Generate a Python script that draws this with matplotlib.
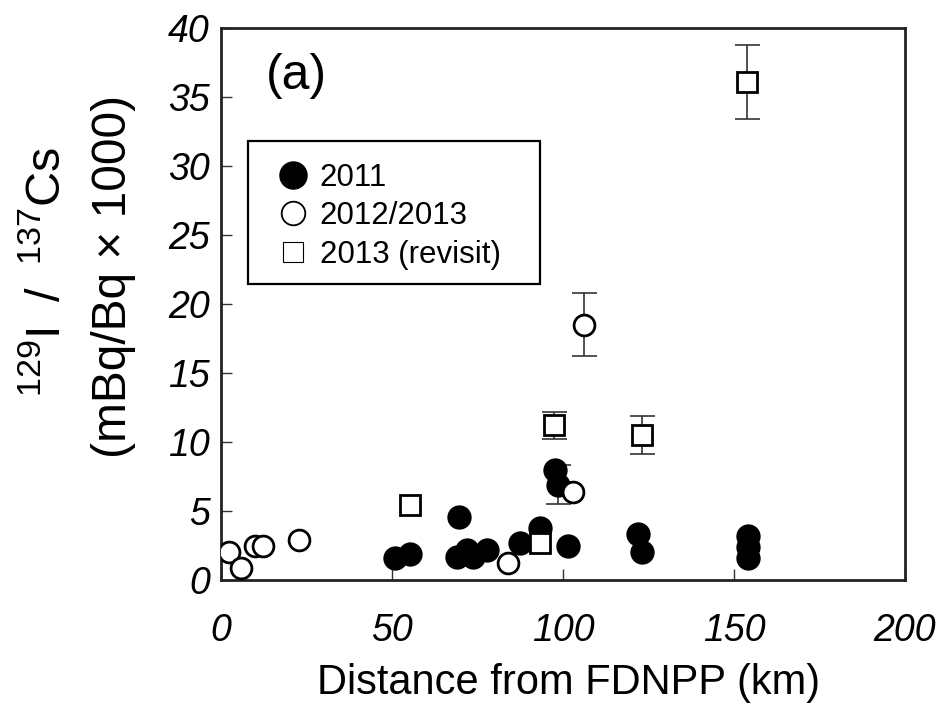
import numpy as np
import matplotlib
matplotlib.use("Agg")
import matplotlib.pyplot as plt
from matplotlib.lines import Line2D
from matplotlib.patches import Rectangle

plt.rcParams['font.family'] = ['Liberation Sans', 'DejaVu Sans']
plt.rcParams['mathtext.fontset'] = 'custom'
plt.rcParams['mathtext.rm'] = 'Liberation Sans'

# 2011 samples
x_2011 = [50.9, 55.3, 69.0, 69.6, 71.9, 73.7, 77.8, 87.4, 93.3, 97.7, 98.5, 101.5, 121.9, 123.1, 154.1, 154.1, 154.1]
y_2011 = [1.6, 1.9, 1.7, 4.6, 2.2, 1.7, 2.2, 2.7, 3.8, 8.0, 6.9, 2.5, 3.3, 2.0, 3.2, 2.4, 1.6]
err_2011 = [0, 0, 0, 0, 0, 0, 0, 0, 0, 0, 1.4, 0, 0, 0, 0, 0, 0]

# 2012/2013 samples
x_1213 = [2.3, 5.8, 9.9, 12.3, 22.8, 83.9, 102.9, 106.1]
y_1213 = [2.0, 0.9, 2.5, 2.5, 2.9, 1.2, 6.4, 18.5]
err_1213 = [0, 0, 0, 0, 0, 0, 0, 2.3]

# 2013 revisit samples
x_rev = [55.3, 93.3, 97.4, 123.1, 153.8]
y_rev = [5.4, 2.7, 11.2, 10.5, 36.1]
err_rev = [0, 0, 1.0, 1.4, 2.7]

x_ticks = [0, 50, 100, 150, 200]
y_ticks = [0, 5, 10, 15, 20, 25, 30, 35, 40]

W, H = 943, 706
fig = plt.figure(figsize=(W / 100, H / 100), dpi=100)
ax = fig.add_axes([221 / W, 1 - 580 / H, 684 / W, 552 / H])


def draw_errors(x, y, e):
    x, y, e = map(np.asarray, (x, y, e))
    m = e > 0
    if m.any():
        ax.errorbar(x[m], y[m], yerr=e[m], fmt='none', ecolor='#333333',
                    elinewidth=1.2, capsize=9, capthick=1.2, zorder=2)


ms = 16
draw_errors(x_2011, y_2011, err_2011)
ax.plot(x_2011, y_2011, 'o', ms=ms, mfc='black', mec='black', mew=1.5, zorder=3)
draw_errors(x_1213, y_1213, err_1213)
ax.plot(x_1213, y_1213, 'o', ms=ms - 1, mfc='white', mec='black', mew=2.0, zorder=4)
draw_errors(x_rev, y_rev, err_rev)
ax.plot(x_rev, y_rev, 's', ms=ms - 1.5, mfc='white', mec='black', mew=2.0, zorder=5)

ax.set_xlim(0, 200)
ax.set_ylim(0, 40)
ax.set_xticks(x_ticks)
ax.set_yticks(y_ticks)
ax.set_xticklabels([str(v) for v in x_ticks], fontstyle='italic', fontsize=27)
ax.set_yticklabels([str(v) for v in y_ticks], fontstyle='italic', fontsize=27)
ax.tick_params(direction='in', length=8, width=1.0, color='#333333')
ax.tick_params(axis='x', pad=24)
ax.tick_params(axis='y', pad=8)
for sp in ax.spines.values():
    sp.set_linewidth(2.0)
    sp.set_color('#222222')

fig.text(569 / W, 1 - 683 / H, 'Distance from FDNPP (km)', fontsize=30,
         ha='center', va='center')
fig.text(48 / W, 1 - 272 / H, '$^{129}$I\u2009 / \u2009$^{137}$Cs', rotation=90,
         fontsize=35, ha='center', va='center')
fig.text(113 / W, 1 - 276 / H, '(mBq/Bq × 1000)', rotation=90,
         fontsize=34.5, ha='center', va='center')

ax.text(0.065, (580 - 76) / 552, '(a)', transform=ax.transAxes, fontsize=36,
        ha='left', va='center')

# legend: frame drawn as a plain rectangle, entries placed inside it
frame = Rectangle((27 / 684, (580 - 284) / 552), 292 / 684, 143 / 552,
                  transform=ax.transAxes, fill=True, facecolor='white',
                  edgecolor='black', linewidth=1.6, zorder=6)
ax.add_patch(frame)
handles = [
    Line2D([], [], ls='none', marker='o', ms=19.5, mfc='black', mec='black'),
    Line2D([], [], ls='none', marker='o', ms=17, mfc='white', mec='black', mew=1.3),
    Line2D([], [], ls='none', marker='s', ms=15, mfc='white', mec='black', mew=0.8),
]
leg = ax.legend(handles, ['2011', '2012/2013', '2013 (revisit)'],
                loc='upper left', bbox_to_anchor=(36 / 684, (580 - 141) / 552),
                fontsize=22.5, frameon=False, handlelength=0.9,
                handletextpad=0.4, labelspacing=0.27, borderpad=0.7,
                borderaxespad=0)
leg.set_zorder(7)

fig.savefig('out.png', dpi=100)
